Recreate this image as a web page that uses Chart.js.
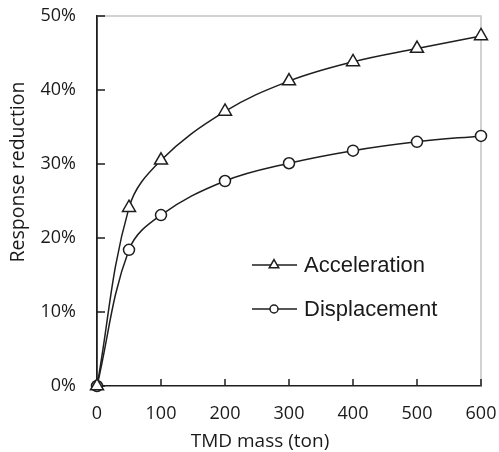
<!DOCTYPE html>
<html>
<head>
<meta charset="utf-8">
<script src="https://cdn.jsdelivr.net/npm/chart.js@4/dist/chart.umd.min.js"></script>
<style>
  html, body { margin: 0; padding: 0; background: #ffffff; }
  #wrap { width: 499px; height: 452px; }
</style>
</head>
<body>
<div id="wrap"><canvas id="chart" width="499" height="452"></canvas></div>
<script>
// TMD mass (ton) and the response reduction (%) it achieves
const massTon = [0, 50, 100, 200, 300, 400, 500, 600];
const accelerationReduction = [0, 24.1, 30.5, 37.1, 41.2, 43.8, 45.6, 47.3];
const displacementReduction = [0, 18.4, 23.1, 27.7, 30.1, 31.8, 33.0, 33.8];

const seriesNames = ['Acceleration', 'Displacement'];
const xTickValues = [0, 100, 200, 300, 400, 500, 600];
const yTickValues = [0, 10, 20, 30, 40, 50];
const xAxisTitle = 'TMD mass (ton)';
const yAxisTitle = 'Response reduction';

const INK = '#1e1e1e';
const TEXT = '#1a1a1a';

function toPoints(xs, ys) {
  return xs.map((x, i) => ({ x: x, y: ys[i] }));
}

// Axis frame: light top/right border plus inward tick marks
const framePlugin = {
  id: 'frame',
  beforeDatasetsDraw(chart) {
    const { ctx, chartArea: a, scales: { x, y } } = chart;
    ctx.save();
    ctx.strokeStyle = '#c4c4c4';
    ctx.lineWidth = 1.5;
    ctx.beginPath();
    ctx.moveTo(a.left, a.top);
    ctx.lineTo(a.right, a.top);
    ctx.lineTo(a.right, a.bottom);
    ctx.stroke();

    ctx.strokeStyle = INK;
    ctx.lineWidth = 1.5;
    ctx.beginPath();
    x.ticks.forEach(t => {
      const px = x.getPixelForValue(t.value);
      ctx.moveTo(px, a.bottom);
      ctx.lineTo(px, a.bottom - 7);
    });
    y.ticks.forEach(t => {
      const py = y.getPixelForValue(t.value);
      ctx.moveTo(a.left, py);
      ctx.lineTo(a.left + 8, py);
    });
    ctx.stroke();
    ctx.restore();
  },
  afterDraw(chart) {
    const { ctx } = chart;
    ctx.save();
    // axis titles
    ctx.fillStyle = TEXT;
    ctx.font = '19px "Open Sans"';
    ctx.textAlign = 'center';
    ctx.textBaseline = 'middle';
    ctx.fillText(xAxisTitle, 260, 442);
    ctx.translate(18, 172);
    ctx.rotate(-Math.PI / 2);
    ctx.font = '19.5px "Open Sans"';
    ctx.fillText(yAxisTitle, 0, 0);
    ctx.restore();

    // legend: line sample with a small marker, then the series name
    const rows = [
      { name: seriesNames[0], style: 'triangle', r: 5.5, y: 265 },
      { name: seriesNames[1], style: 'circle', r: 4, y: 309 }
    ];
    ctx.save();
    rows.forEach(row => {
      ctx.strokeStyle = INK;
      ctx.lineWidth = 1.5;
      ctx.beginPath();
      ctx.moveTo(252, row.y);
      ctx.lineTo(297, row.y);
      ctx.stroke();
      ctx.fillStyle = '#ffffff';
      Chart.helpers.drawPoint(ctx, {
        pointStyle: row.style, radius: row.r, borderWidth: 1.5, rotation: 0
      }, 274, row.y);
      ctx.fillStyle = TEXT;
      ctx.font = '22px "Liberation Sans"';
      ctx.textAlign = 'left';
      ctx.textBaseline = 'alphabetic';
      ctx.fillText(row.name, 304, row.y + 7);
    });
    ctx.restore();
  }
};

const lineStyle = {
  borderColor: INK,
  borderWidth: 1.5,
  pointBorderColor: INK,
  pointBackgroundColor: '#ffffff',
  pointBorderWidth: 1.5,
  tension: 0.38,
  fill: false,
  clip: false
};

new Chart(document.getElementById('chart'), {
  type: 'line',
  data: {
    datasets: [
      Object.assign({
        label: seriesNames[0],
        data: toPoints(massTon, accelerationReduction),
        pointStyle: 'triangle',
        pointRadius: 7.5
      }, lineStyle),
      Object.assign({
        label: seriesNames[1],
        data: toPoints(massTon, displacementReduction),
        pointStyle: 'circle',
        pointRadius: 5.5
      }, lineStyle)
    ]
  },
  options: {
    responsive: false,
    devicePixelRatio: 1,
    animation: false,
    layout: { padding: { top: 16, right: 18, bottom: 0, left: 0 } },
    plugins: {
      legend: { display: false },
      title: { display: false },
      tooltip: { enabled: false }
    },
    scales: {
      x: {
        type: 'linear',
        min: 0,
        max: 600,
        afterBuildTicks: s => { s.ticks = xTickValues.map(v => ({ value: v })); },
        afterFit: s => { s.height = 66; s.paddingLeft = 0; s.paddingRight = 0; },
        grid: { display: true, drawOnChartArea: false, drawTicks: false },
        border: { display: true, color: INK, width: 1.5 },
        ticks: {
          autoSkip: false,
          maxRotation: 0,
          padding: 17,
          color: TEXT,
          font: { family: 'Open Sans', size: 18 }
        }
      },
      y: {
        type: 'linear',
        min: 0,
        max: 50,
        afterBuildTicks: s => { s.ticks = yTickValues.map(v => ({ value: v })); },
        afterFit: s => { s.width = 97; s.paddingTop = 0; s.paddingBottom = 0; },
        grid: { display: true, drawOnChartArea: false, drawTicks: false },
        border: { display: true, color: INK, width: 1.8 },
        ticks: {
          padding: 21,
          color: TEXT,
          font: { family: 'Open Sans', size: 18 },
          callback: v => v + '%'
        }
      }
    }
  },
  plugins: [framePlugin]
});
</script>
</body>
</html>
